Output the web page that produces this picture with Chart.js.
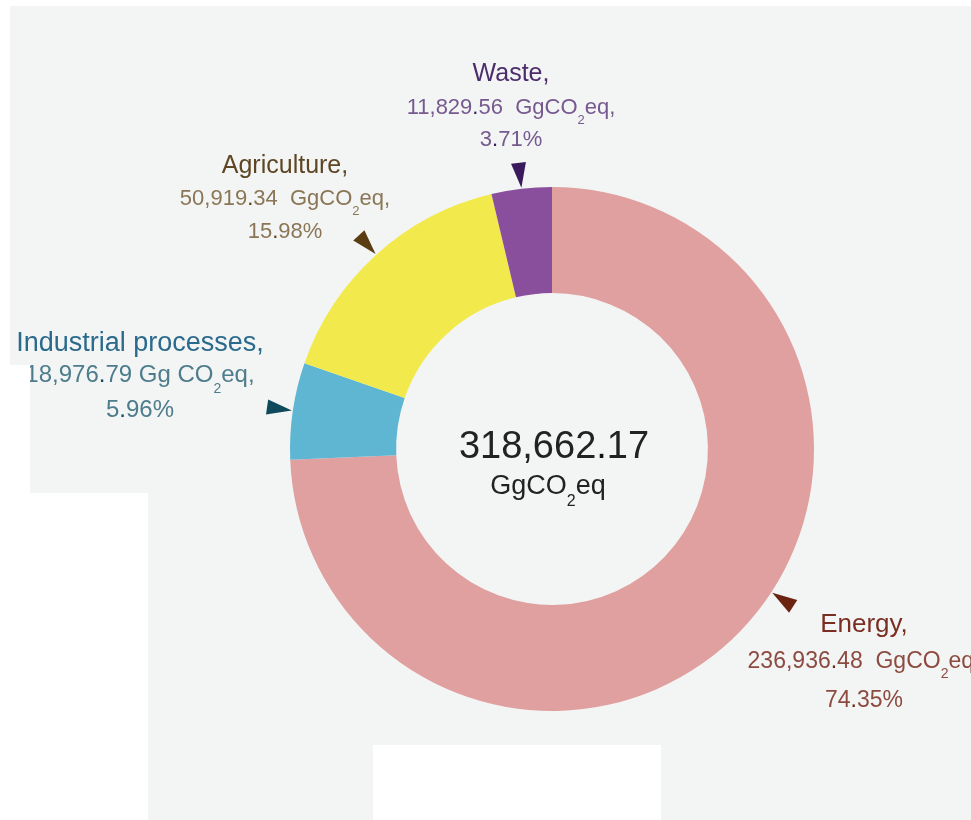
<!DOCTYPE html>
<html>
<head>
<meta charset="utf-8">
<title>GHG emissions by sector</title>
<script src="https://cdn.jsdelivr.net/npm/chart.js"></script>
<style>
  html, body { margin: 0; padding: 0; background: #fff; }
  #wrap { position: relative; width: 971px; height: 820px; overflow: hidden; }
  #panel { position: absolute; left: 10px; top: 6px; right: 0; bottom: 0; background: #f3f5f4; }
  canvas { position: absolute; left: 0; top: 0; }
  .cut { position: absolute; background: #fff; }
</style>
</head>
<body>
<div id="wrap">
  <div id="panel"></div>
  <canvas id="sectors" width="971" height="820"></canvas>
  <div class="cut" style="left:0;top:365px;width:30px;height:128px"></div>
  <div class="cut" style="left:0;top:493px;width:148px;height:327px"></div>
  <div class="cut" style="left:373px;top:745px;width:288px;height:75px"></div>
</div>
<script>
const sectors = ['Energy', 'Industrial processes', 'Agriculture', 'Waste'];
const emissions = [236936.48, 18976.79, 50919.34, 11829.56];
const units = ['GgCO2eq', 'Gg CO2eq', 'GgCO2eq', 'GgCO2eq'];
const totalUnit = 'GgCO2eq';

const sliceColors = ['#e0a0a0', '#5eb6d2', '#f2ea4c', '#8a4f9c'];

// per-sector label styling: title/body colours, pointer colour, text block placement
const labelStyle = [
  { title: '#7a2e22', body: '#8c4a40', dark: '#6b2412', x: 864, y: [632, 668, 707], size: [26, 23], gap: '  ', at: 0.46 },
  { title: '#2b6a8c', body: '#4d7c8c', dark: '#0f4a5c', x: 140, y: [351, 382, 417], size: [27, 24], gap: ' ', at: 0.5 },
  { title: '#5e4624', body: '#8a7656', dark: '#5a3d12', x: 285, y: [173, 205, 238], size: [25, 22], gap: '  ', at: 0.5 },
  { title: '#4c2d6c', body: '#76598f', dark: '#3a1a5c', x: 511, y: [81, 114, 146], size: [25, 22], gap: '  ', at: 0.5 },
];

const FONT = '"Liberation Sans", Arial, Helvetica, sans-serif';
const total = Math.round(emissions.reduce((a, b) => a + b, 0) * 100) / 100;

function fmt(n) {
  return n.toLocaleString('en-US', { minimumFractionDigits: 2, maximumFractionDigits: 2 });
}

// split a string into runs: plain text, decimal points, and the subscript 2 of CO2
function runsOf(str) {
  const runs = [];
  for (let i = 0; i < str.length; i++) {
    const ch = str[i];
    let kind = 'n';
    if (ch === '.') kind = 'dot';
    else if (ch === '2' && str.slice(i - 2, i) === 'CO') kind = 'sub';
    const last = runs[runs.length - 1];
    if (last && last.kind === kind) last.text += ch;
    else runs.push({ text: ch, kind });
  }
  return runs;
}

function drawRich(ctx, str, cx, baseline, size, color, dark) {
  const runs = runsOf(str);
  const subSize = Math.round(size * 0.6);
  let width = 0;
  for (const r of runs) {
    ctx.font = `${r.kind === 'sub' ? subSize : size}px ${FONT}`;
    r.w = ctx.measureText(r.text).width;
    width += r.w;
  }
  let x = cx - width / 2;
  ctx.textAlign = 'left';
  ctx.textBaseline = 'alphabetic';
  for (const r of runs) {
    ctx.font = `${r.kind === 'sub' ? subSize : size}px ${FONT}`;
    ctx.fillStyle = r.kind === 'dot' ? dark : color;
    ctx.fillText(r.text, x, baseline + (r.kind === 'sub' ? size * 0.45 : 0));
    x += r.w;
  }
}

const sectorLabels = {
  id: 'sectorLabels',
  afterDatasetsDraw(chart) {
    const ctx = chart.ctx;
    const meta = chart.getDatasetMeta(0);
    ctx.save();
    meta.data.forEach((arc, i) => {
      const s = labelStyle[i];
      const { x, y, startAngle, endAngle, outerRadius } =
        arc.getProps(['x', 'y', 'startAngle', 'endAngle', 'outerRadius'], true);

      // pointer wedge sitting on the outer edge of the slice
      const a = startAngle + (endAngle - startAngle) * s.at;
      const ux = Math.cos(a), uy = Math.sin(a);
      const tipR = outerRadius + 1, baseR = outerRadius + 26;
      ctx.fillStyle = s.dark;
      ctx.beginPath();
      ctx.moveTo(x + ux * tipR, y + uy * tipR);
      ctx.lineTo(x + ux * baseR - uy * 7.5, y + uy * baseR + ux * 7.5);
      ctx.lineTo(x + ux * baseR + uy * 7.5, y + uy * baseR - ux * 7.5);
      ctx.closePath();
      ctx.fill();

      const v = emissions[i];
      const pct = (v / total * 100).toFixed(2) + '%';
      ctx.font = `${s.size[0]}px ${FONT}`;
      ctx.fillStyle = s.title;
      ctx.textAlign = 'center';
      ctx.textBaseline = 'alphabetic';
      ctx.fillText(sectors[i] + ',', s.x, s.y[0]);
      drawRich(ctx, `${fmt(v)}${s.gap}${units[i]},`, s.x, s.y[1], s.size[1], s.body, s.dark);
      drawRich(ctx, pct, s.x, s.y[2], s.size[1], s.body, s.dark);
    });

    // total in the hole
    const c = meta.data[0];
    drawRich(ctx, fmt(total), c.x + 2, c.y + 9, 38, '#222', '#111');
    drawRich(ctx, totalUnit, c.x - 4, c.y + 45, 27, '#222', '#111');
    ctx.restore();
  }
};

new Chart(document.getElementById('sectors'), {
  type: 'doughnut',
  data: {
    labels: sectors,
    datasets: [{
      data: emissions,
      backgroundColor: sliceColors,
      borderWidth: 0,
      hoverOffset: 0,
    }],
  },
  options: {
    responsive: false,
    devicePixelRatio: 1,
    animation: false,
    cutout: '59.5%',
    layout: { padding: { left: 290, right: 157, top: 187, bottom: 109 } },
    plugins: { legend: { display: false }, tooltip: { enabled: false } },
  },
  plugins: [sectorLabels],
});
</script>
</body>
</html>
